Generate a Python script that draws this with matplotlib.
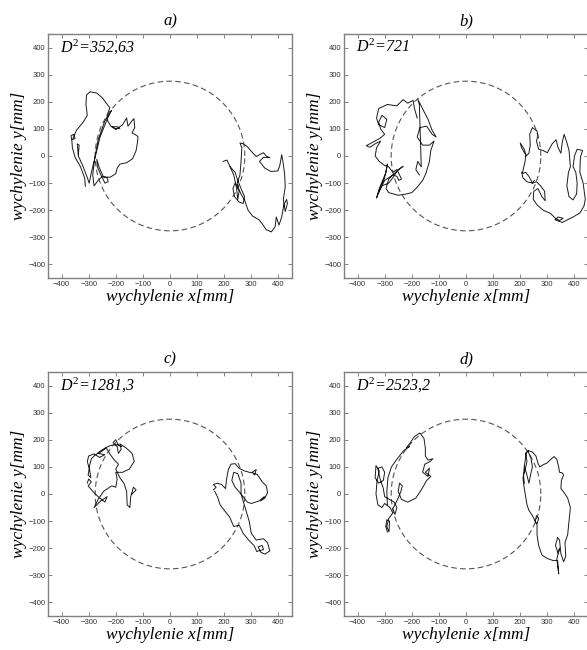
import numpy as np
import matplotlib
matplotlib.use("Agg")
import matplotlib.pyplot as plt

plt.rcParams["mathtext.fontset"] = "custom"
plt.rcParams["mathtext.it"] = "Liberation Serif:italic"
plt.rcParams["mathtext.rm"] = "Liberation Serif"

TITLES = ["a)", "b)", "c)", "d)"]
D2_LABELS = ["352,63", "721", "1281,3", "2523,2"]
TICKS = [-400, -300, -200, -100, 0, 100, 200, 300, 400]
RADIUS = 276

# trajectories, (x, y) in mm
a_left = [(-312, -112), (-315, -80), (-330, -40), (-350, -5), (-360, 30), (-362, 55),
          (-365, 75), (-355, 80), (-350, 65), (-360, 60), (-345, 95), (-320, 125),
          (-305, 150), (-310, 190), (-308, 225), (-295, 237), (-270, 232), (-250, 215),
          (-235, 195), (-222, 178), (-232, 150), (-230, 130), (-218, 110), (-200, 100),
          (-185, 102), (-195, 108), (-215, 108), (-200, 98), (-175, 115), (-160, 140),
          (-155, 110), (-140, 130), (-133, 138), (-130, 105), (-140, 85), (-130, 80),
          (-118, 72), (-120, 50), (-125, 20), (-138, -10), (-160, -25), (-185, -30),
          (-195, -45), (-200, -65), (-220, -78), (-245, -78), (-262, -40), (-270, -12),
          (-268, -40), (-255, -70), (-240, -100), (-228, -95), (-232, -80), (-250, -75),
          (-265, -90), (-280, -110), (-285, -70), (-278, -10), (-265, 60), (-240, 130),
          (-216, 168), (-230, 140), (-258, 70), (-275, 0), (-290, -60), (-298, -100),
          (-305, -80), (-320, -40), (-338, 0), (-342, 45), (-335, 40), (-338, 5)]
a_right = [(196, -20), (210, -15), (222, -40), (235, -70), (245, -115), (250, -160),
           (255, -130), (248, -100), (258, -70), (262, -20), (265, 30), (258, 48),
           (270, 45), (285, 35), (300, 17), (318, -2), (330, 5), (345, 12), (355, 0),
           (368, -6), (345, -5), (330, -20), (350, -45), (372, -57), (398, -55),
           (405, -35), (412, 5), (418, -30), (423, -70), (425, -115), (418, -160),
           (425, -205), (433, -175), (430, -160), (420, -180), (412, -225), (402, -255),
           (392, -225), (388, -260), (374, -280), (355, -272), (340, -250), (328, -235),
           (305, -222), (288, -200), (276, -165), (262, -140), (250, -115), (240, -100),
           (232, -120), (238, -150), (255, -170), (270, -175), (275, -150), (262, -120),
           (250, -90), (240, -60), (222, -40)]
b_left = [(-180, 140), (-190, 175), (-195, 205), (-205, 200), (-215, 195), (-232, 208),
          (-255, 185), (-290, 190), (-322, 175), (-330, 140), (-322, 115), (-300, 105),
          (-292, 135), (-310, 150), (-322, 125), (-315, 100), (-300, 80), (-318, 65),
          (-345, 50), (-368, 38), (-355, 32), (-335, 45), (-315, 55), (-330, 30),
          (-335, 0), (-320, -20), (-300, -35), (-285, -40), (-270, -60), (-255, -50),
          (-245, -70), (-238, -85), (-248, -90), (-255, -75), (-270, -70), (-300, -90),
          (-320, -130), (-330, -155), (-320, -120), (-295, -60), (-290, -30), (-300, -80),
          (-325, -140), (-310, -110), (-285, -100), (-270, -80), (-250, -50), (-232, -38),
          (-260, -60), (-285, -85), (-295, -120), (-285, -135), (-250, -145), (-220, -140),
          (-200, -135), (-180, -115), (-160, -90), (-148, -65), (-135, -20), (-130, 20),
          (-118, 55), (-135, 40), (-160, 40), (-180, 70), (-170, 105), (-145, 110),
          (-125, 80), (-110, 70), (-125, 95), (-140, 135), (-158, 170), (-178, 210),
          (-172, 190), (-165, -40), (-178, -20), (-185, -50), (-172, -70)]
b_right = [(205, -60), (210, -80), (225, -95), (245, -100), (260, -95), (275, -110),
           (290, -130), (292, -165), (280, -150), (265, -120), (250, -130), (248, -160),
           (262, -180), (285, -200), (312, -212), (330, -230), (345, -238), (358, -230),
           (340, -225), (328, -235), (355, -245), (375, -235), (395, -225), (420, -210),
           (435, -185), (440, -160), (432, -100), (420, -60), (422, -5), (430, 20),
           (410, 25), (400, 0), (395, -40), (405, -60), (410, -100), (408, -140),
           (395, -162), (380, -150), (372, -110), (378, -60), (385, -40), (380, 20),
           (372, 50), (362, 80), (355, 50), (350, 10), (340, 30), (332, 60), (318, 45),
           (300, 12), (285, 20), (268, 25), (260, 55), (265, 75), (262, 92), (245, 105),
           (235, 80), (237, 40), (232, 10), (222, 0), (215, 25), (200, 48), (205, 30),
           (220, 5), (218, -20), (212, -45), (208, -65), (220, -60), (232, -75),
           (245, -100), (252, -90)]
c_left = [(-305, 40), (-300, 55), (-290, 45), (-302, 30), (-285, 10), (-265, -10),
          (-240, -30), (-232, -10), (-255, -25), (-280, -50), (-265, -20), (-245, 10),
          (-215, 30), (-200, 25), (-195, 55), (-200, 80), (-175, 80), (-150, 92),
          (-132, 120), (-140, 150), (-162, 170), (-185, 185), (-180, 165), (-190, 150),
          (-195, 175), (-210, 190), (-200, 200), (-190, 180), (-178, 175), (-195, 182),
          (-215, 180), (-235, 172), (-255, 160), (-268, 150), (-240, 145), (-260, 135),
          (-280, 148), (-300, 140), (-305, 120), (-298, 95), (-302, 70), (-292, 60),
          (-298, 100), (-290, 130), (-275, 145), (-255, 155), (-235, 170), (-220, 145),
          (-205, 125), (-190, 110), (-200, 92), (-185, 60), (-170, 40), (-160, 10),
          (-158, -40), (-148, -50), (-145, -10), (-135, 25), (-125, 15), (-140, 0)]
c_right = [(160, 15), (170, 25), (160, 35), (175, 40), (190, 35), (205, 20), (208, 50),
           (215, 90), (225, 110), (240, 112), (255, 95), (275, 85), (300, 78), (318, 90),
           (312, 70), (305, 78), (322, 72), (340, 45), (355, 30), (360, 5), (350, -15),
           (335, -25), (348, -10), (330, -25), (300, -35), (285, -30), (262, 0),
           (240, 25), (228, 50), (235, 80), (250, 75), (262, 40), (262, 0), (280, -60),
           (292, -100), (300, -145), (318, -170), (345, -165), (360, -180), (368, -210),
           (350, -222), (335, -215), (325, -195), (340, -190), (345, -205), (320, -212),
           (310, -190), (290, -170), (270, -145), (255, -115), (235, -120), (220, -85),
           (200, -60), (185, -40), (175, -10), (165, 10)]
d_left = [(-290, -140), (-296, -120), (-292, -95), (-282, -100), (-284, -140), (-292, -120),
          (-285, -90), (-270, -70), (-280, -50), (-300, -35), (-310, -50), (-325, -40),
          (-332, 0), (-328, 50), (-320, 85), (-332, 105), (-335, 60), (-322, 40),
          (-305, 50), (-300, 80), (-310, 100), (-325, 95), (-318, 60), (-305, 20),
          (-300, -10), (-282, -20), (-265, -30), (-255, -50), (-262, -75), (-270, -55),
          (-250, -15), (-240, 10), (-235, 30), (-245, 40), (-250, 10), (-238, -20),
          (-215, -30), (-185, -15), (-165, 15), (-145, 50), (-130, 65), (-150, 80),
          (-135, 95), (-140, 65), (-160, 80), (-152, 110), (-132, 120), (-122, 130),
          (-140, 125), (-150, 140), (-150, 170), (-155, 205), (-170, 225), (-190, 212),
          (-205, 190), (-220, 170), (-208, 175), (-230, 160), (-255, 128), (-275, 100),
          (-288, 60), (-292, 10), (-290, -40)]
d_right = [(215, 40), (212, 70), (215, 100), (222, 150), (230, 160), (245, 155), (258, 140),
           (265, 115), (272, 100), (285, 108), (300, 115), (315, 130), (325, 138),
           (335, 128), (342, 100), (345, 80), (355, 78), (360, 70), (352, 50), (350, 20),
           (362, 5), (375, -15), (385, -50), (380, -100), (375, -150), (365, -180),
           (368, -230), (360, -250), (350, -220), (345, -170), (338, -160), (330, -190),
           (340, -220), (345, -200), (335, -240), (342, -295), (338, -245), (320, -245),
           (300, -238), (280, -225), (268, -190), (262, -150), (262, -110), (268, -90),
           (260, -80), (255, -100), (260, -110), (245, -80), (232, -60), (225, -40),
           (220, -10), (215, 20), (210, 60), (218, 90), (225, 120), (220, 150),
           (228, 160), (240, 130), (245, 100), (238, 70), (232, 40), (222, 80), (215, 100)]

TRACES = [(a_left, a_right), (b_left, b_right), (c_left, c_right), (d_left, d_right)]

W, H = 587, 650
fig = plt.figure(figsize=(W / 100, H / 100), dpi=100)
positions = [(48, 34), (344, 34), (48, 372), (344, 372)]
serif = "Liberation Serif"

for i, (px, py) in enumerate(positions):
    ax = fig.add_axes([px / W, (H - py - 244) / H, 244 / W, 244 / H])
    theta = np.linspace(0, 2 * np.pi, 400)
    ax.plot(RADIUS * np.cos(theta), RADIUS * np.sin(theta), color="#555555",
            lw=0.8, dashes=(5, 3))
    for tr in TRACES[i]:
        xs = [p[0] for p in tr]
        ys = [p[1] for p in tr]
        ax.plot(xs, ys, color="#1a1a1a", lw=0.7)
    ax.set_xlim(-450, 450)
    ax.set_ylim(-450, 450)
    ax.set_xticks(TICKS)
    ax.set_yticks(TICKS)
    ax.tick_params(direction="in", length=3, width=0.6, color="#707070",
                   labelsize=5.5, labelcolor="#333333", top=True, right=True, pad=2)
    for lab in ax.get_xticklabels() + ax.get_yticklabels():
        lab.set_family("Liberation Sans")
    for sp in ax.spines.values():
        sp.set_color("#808080")
        sp.set_linewidth(1.0)
    ax.set_xlabel("wychylenie x[mm]", family=serif, style="italic", fontsize=12.5,
                  labelpad=1)
    ax.set_ylabel("wychylenie y[mm]", family=serif, style="italic", fontsize=12.5,
                  labelpad=1)
    ax.set_title(TITLES[i], family=serif, style="italic", fontsize=12, pad=6)
    ax.text(-405, 400, "$D^2$=" + D2_LABELS[i], family=serif, style="italic",
            fontsize=11.5, ha="left", va="center")

fig.savefig("out.png", dpi=100)
